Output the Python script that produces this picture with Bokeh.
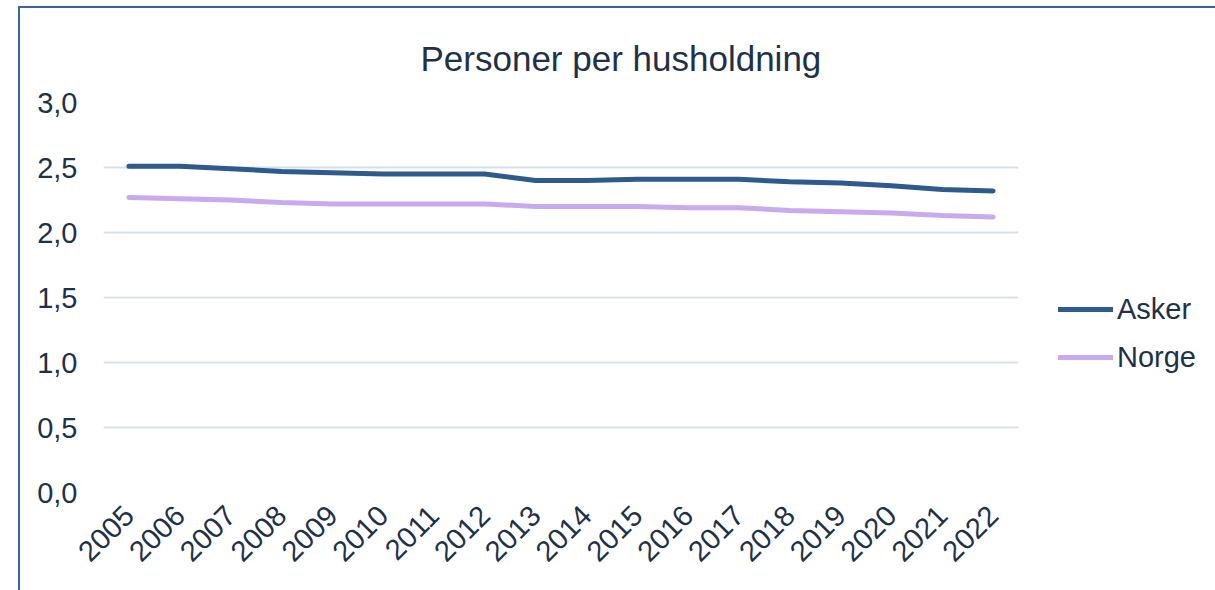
import math
from bokeh.plotting import figure
from bokeh.layouts import row
from bokeh.models import (Range1d, FactorRange, CustomJSTickFormatter, Legend,
                          LegendItem, FixedTicker)
from bokeh.embed import file_html
from bokeh.resources import INLINE

# ---- data ----
years = ["2005", "2006", "2007", "2008", "2009", "2010", "2011", "2012", "2013",
         "2014", "2015", "2016", "2017", "2018", "2019", "2020", "2021", "2022"]
asker = [2.51, 2.51, 2.49, 2.47, 2.46, 2.45, 2.45, 2.45, 2.40,
         2.40, 2.41, 2.41, 2.41, 2.39, 2.38, 2.36, 2.33, 2.32]
norge = [2.27, 2.26, 2.25, 2.23, 2.22, 2.22, 2.22, 2.22, 2.20,
         2.20, 2.20, 2.19, 2.19, 2.17, 2.16, 2.15, 2.13, 2.12]
y_ticks = [0.0, 0.5, 1.0, 1.5, 2.0, 2.5, 3.0]
series_names = ["Asker", "Norge"]
title_text = "Personer per husholdning"

TEXT = "#1F3147"
FONT = "Liberation Sans"
ASKER_C = "#2E5A8E"
NORGE_C = "#C8AAEE"
BORDER_C = "#3A63A0"

# ---- main chart ----
p = figure(width=1008, height=582, x_range=FactorRange(*years),
           y_range=Range1d(0, 3.0), output_backend="svg", toolbar_location=None,
           min_border_left=83, min_border_right=10, min_border_top=94,
           min_border_bottom=98, outline_line_color=None)

p.line(years, asker, line_color=ASKER_C, line_width=5, line_cap="round", line_join="round")
p.line(years, norge, line_color=NORGE_C, line_width=5, line_cap="round", line_join="round")

p.title.text = title_text
p.title.align = "left"
p.title.offset = 317
p.title.standoff = 50
p.title.text_font = FONT
p.title.text_font_size = "35px"
p.title.text_font_style = "normal"
p.title.text_color = TEXT

p.yaxis.ticker = FixedTicker(ticks=y_ticks)
p.yaxis.formatter = CustomJSTickFormatter(code="return tick.toFixed(1).replace('.', ',');")
p.yaxis.axis_line_color = None
p.yaxis.major_tick_line_color = None
p.yaxis.minor_tick_line_color = None
p.yaxis.major_tick_out = 0
p.yaxis.major_label_standoff = 26
p.yaxis.major_label_text_font = FONT
p.yaxis.major_label_text_font_size = "29px"
p.yaxis.major_label_text_color = TEXT

p.xaxis.axis_line_color = None
p.xaxis.major_tick_line_color = None
p.xaxis.major_tick_out = 0
p.xaxis.major_label_orientation = math.pi / 4
p.xaxis.major_label_standoff = 18
p.xaxis.major_label_text_font = FONT
p.xaxis.major_label_text_font_size = "29px"
p.xaxis.major_label_text_color = TEXT

p.xgrid.grid_line_color = None
p.ygrid.grid_line_color = "#D7E0ED"
p.ygrid.grid_line_width = 2

# ---- legend panel (frame aligned with the main chart) ----
q = figure(width=187, height=582, x_range=Range1d(0, 1), y_range=Range1d(0, 1),
           output_backend="svg", toolbar_location=None, min_border=0,
           outline_line_color=None)
q.axis.visible = False
q.grid.visible = False
# legend swatches only (kept outside the visible range of this panel)
l1 = q.line([0, 1], [-5, -5], line_color=ASKER_C, line_width=5, line_cap="round")
l2 = q.line([0, 1], [-5, -5], line_color=NORGE_C, line_width=5, line_cap="round")
legend = Legend(items=[LegendItem(label=series_names[0], renderers=[l1]),
                       LegendItem(label=series_names[1], renderers=[l2])],
                location=(30, 111), orientation="vertical",
                glyph_width=55, glyph_height=48, label_height=48, spacing=0,
                label_standoff=4, padding=0, margin=0,
                border_line_color=None, background_fill_alpha=0,
                label_text_font=FONT, label_text_font_size="29px",
                label_text_color=TEXT)
q.add_layout(legend, "center")

layout = row(p, q)
layout.spacing = 0
layout.margin = (6, 0, 0, 18)
layout.styles = {"border-left": f"2px solid {BORDER_C}", "border-top": f"2px solid {BORDER_C}"}

open("out.html", "w").write(file_html(layout, INLINE))
